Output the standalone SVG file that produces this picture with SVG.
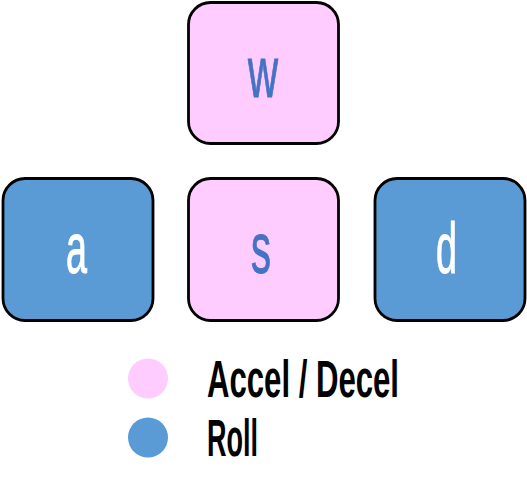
<svg xmlns="http://www.w3.org/2000/svg" width="527" height="499" viewBox="0 0 527 499">
<style>
.key{stroke:#000;stroke-width:2.8}
.pink{fill:#ffccff}
.blue{fill:#5b9bd5}
.kt{font-family:"Liberation Sans",Arial,sans-serif;font-size:72px}
.kp{fill:#4472c4;stroke:#4472c4;stroke-width:1}
.kb{fill:#ffffff;stroke:#ffffff;stroke-width:1}
.lt{font-family:"Liberation Sans",Arial,sans-serif;font-size:51px;font-weight:bold;fill:#000}
</style>
<rect width="527" height="499" fill="#ffffff"/>
<g id="connectors"></g>
<g id="key-w">
<rect class="key pink" x="188.5" y="2.5" width="150" height="141" rx="22"/>
<text class="kt kp" x="248" y="97" textLength="30" lengthAdjust="spacingAndGlyphs">w</text>
</g>
<g id="key-a">
<rect class="key blue" x="3" y="178.5" width="150" height="142" rx="22"/>
<text class="kt kb" x="66" y="273" textLength="21" lengthAdjust="spacingAndGlyphs">a</text>
</g>
<g id="key-s">
<rect class="key pink" x="188.5" y="178.5" width="150" height="142" rx="22"/>
<text class="kt kp" x="251" y="273" textLength="20" lengthAdjust="spacingAndGlyphs">s</text>
</g>
<g id="key-d">
<rect class="key blue" x="375" y="178.5" width="150" height="142" rx="22"/>
<text class="kt kb" x="436" y="273" textLength="21" lengthAdjust="spacingAndGlyphs">d</text>
</g>
<g id="legend">
<circle class="pink" cx="148" cy="378.5" r="20"/>
<circle class="blue" cx="148" cy="437.5" r="20"/>
<text class="lt" x="207" y="397" textLength="192" lengthAdjust="spacingAndGlyphs">Accel / Decel</text>
<text class="lt" x="207" y="456" textLength="51" lengthAdjust="spacingAndGlyphs">Roll</text>
</g>
</svg>
